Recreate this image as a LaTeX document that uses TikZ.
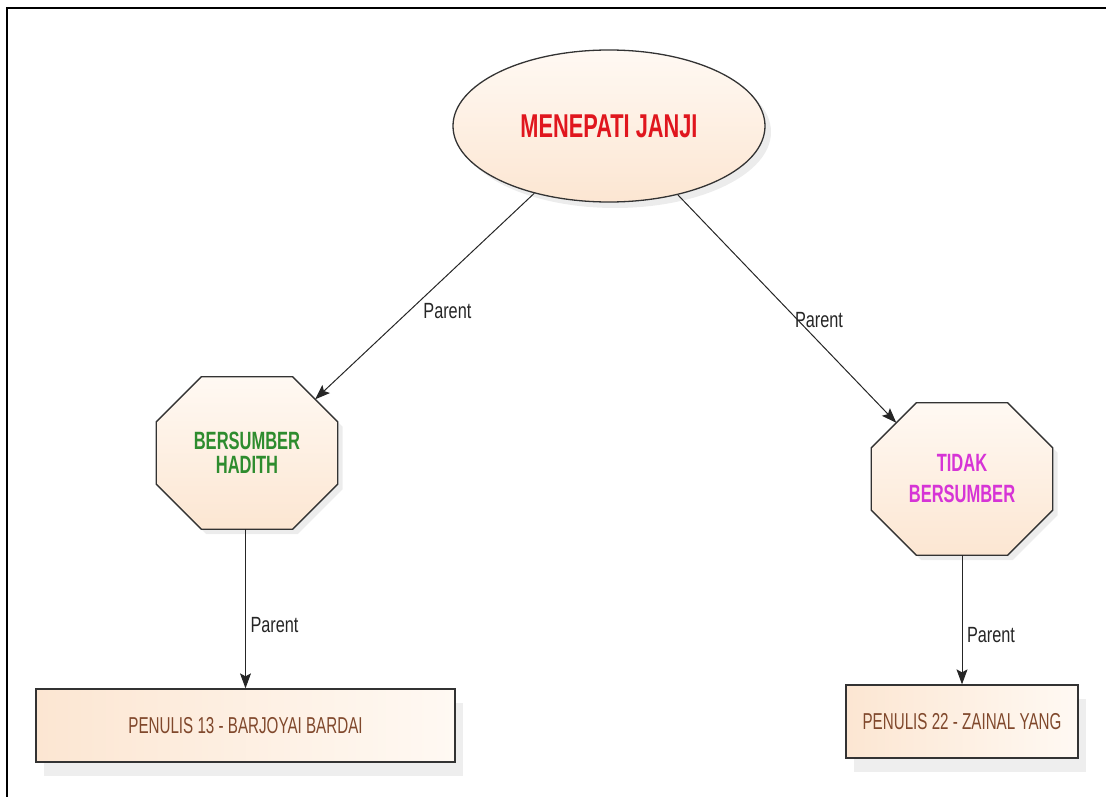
\documentclass[tikz,border=0pt]{standalone}
\usepackage{fontspec}
\setmainfont{Liberation Sans}
\newfontfamily\narrowfont[FakeStretch=0.74]{Liberation Sans}
\newfontfamily\titlefont[FakeStretch=0.66]{Liberation Sans}
\usetikzlibrary{shapes.geometric,arrows.meta,shadows,calc}

\pgfdeclarelayer{background}
\pgfsetlayers{background,main}

\definecolor{peachlight}{RGB}{255,249,243}
\definecolor{peachdark}{RGB}{252,230,210}
\definecolor{titlered}{RGB}{224,22,30}
\definecolor{hadithgreen}{RGB}{46,140,46}
\definecolor{tidakpink}{RGB}{214,52,214}
\definecolor{writerbrown}{RGB}{128,72,44}

\tikzset{
  topic/.style={ellipse, draw=black!80, line width=1.3pt,
    top color=peachlight, bottom color=peachdark,
    minimum width=312pt, minimum height=152pt, inner sep=0pt,
    drop shadow={shadow xshift=6pt, shadow yshift=-6pt, fill=black!15},
    text=titlered, font=\titlefont\bfseries\fontsize{33}{36}\selectfont},
  octbox/.style={rectangle, draw=none, minimum width=181pt, minimum height=152pt,
    inner sep=0pt, align=center},
  octagon/.style={draw=black!80, line width=1.3pt,
    top color=peachlight, bottom color=peachdark,
    drop shadow={shadow xshift=5pt, shadow yshift=-5pt, fill=black!15}},
  writer/.style={rectangle, draw=black!80, line width=1.3pt,
    left color=peachdark, right color=peachlight,
    minimum height=73pt, inner sep=0pt,
    drop shadow={shadow xshift=8pt, shadow yshift=-14pt, fill=black!13},
    text=writerbrown, font=\titlefont\fontsize{23}{26}\selectfont},
  parentarrow/.style={-{Stealth[length=15pt,width=11pt,inset=3pt]}, black!85, line width=1pt},
  parentlabel/.style={text=black!85, inner sep=0pt,
    font=\narrowfont\fontsize{22}{24}\selectfont}
}

\begin{document}
\begin{tikzpicture}[x=1pt,y=-1pt]
  \useasboundingbox (0,0) rectangle (1106,797);

  % Frame
  \draw[line width=2pt] (7,797) -- (7,8) -- (1106,8);

  % Main topic
  \node[topic] (janji) at (609,126) {MENEPATI JANJI};

  % Sub topics
  \node[octbox, text=hadithgreen, font=\titlefont\bfseries\fontsize{25}{24}\selectfont]
    (hadith) at (247,453) {BERSUMBER\\HADITH};
  \node[octbox, text=tidakpink, font=\titlefont\bfseries\fontsize{25}{31}\selectfont]
    (tidak) at (962,479) {TIDAK\\BERSUMBER};

  % Writers
  \node[writer, minimum width=419pt] (penulis13) at (245.5,725.5) {PENULIS 13 - BARJOYAI BARDAI};
  \node[writer, minimum width=232pt] (penulis22) at (962,721.5) {PENULIS 22 - ZAINAL YANG};

  % Octagons behind the sub topics
  \begin{pgfonlayer}{background}
    \foreach \n in {hadith,tidak} {
      \path[octagon] ($(\n.north west)+(45,0)$) -- ($(\n.north east)+(-45,0)$)
        -- ($(\n.north east)+(0,45)$) -- ($(\n.south east)+(0,-45)$)
        -- ($(\n.south east)+(-45,0)$) -- ($(\n.south west)+(45,0)$)
        -- ($(\n.south west)+(0,-45)$) -- ($(\n.north west)+(0,45)$) -- cycle;
    }
  \end{pgfonlayer}

  % Arrow ends on the octagon sides
  \coordinate (hadith-ne) at ($(hadith.north east)+(-22.5,22.5)$);
  \coordinate (tidak-nw) at ($(tidak.north west)+(25,20)$);

  % Connectors
  \draw[parentarrow] (janji.222) -- node[parentlabel, pos=0.57, xshift=38pt] (lbl1) {Parent} (hadith-ne);
  \draw[parentarrow] (janji.315) -- node[parentlabel, pos=0.55, xshift=21pt] (lbl2) {Parent} (tidak-nw);
  \draw[parentarrow] (hadith.south -| penulis13.north) -- node[parentlabel, pos=0.6, xshift=29pt] (lbl3) {Parent} (penulis13.north);
  \draw[parentarrow] (tidak.south) -- node[parentlabel, pos=0.615, xshift=29pt] (lbl4) {Parent} (penulis22.north);
\end{tikzpicture}
\end{document}
